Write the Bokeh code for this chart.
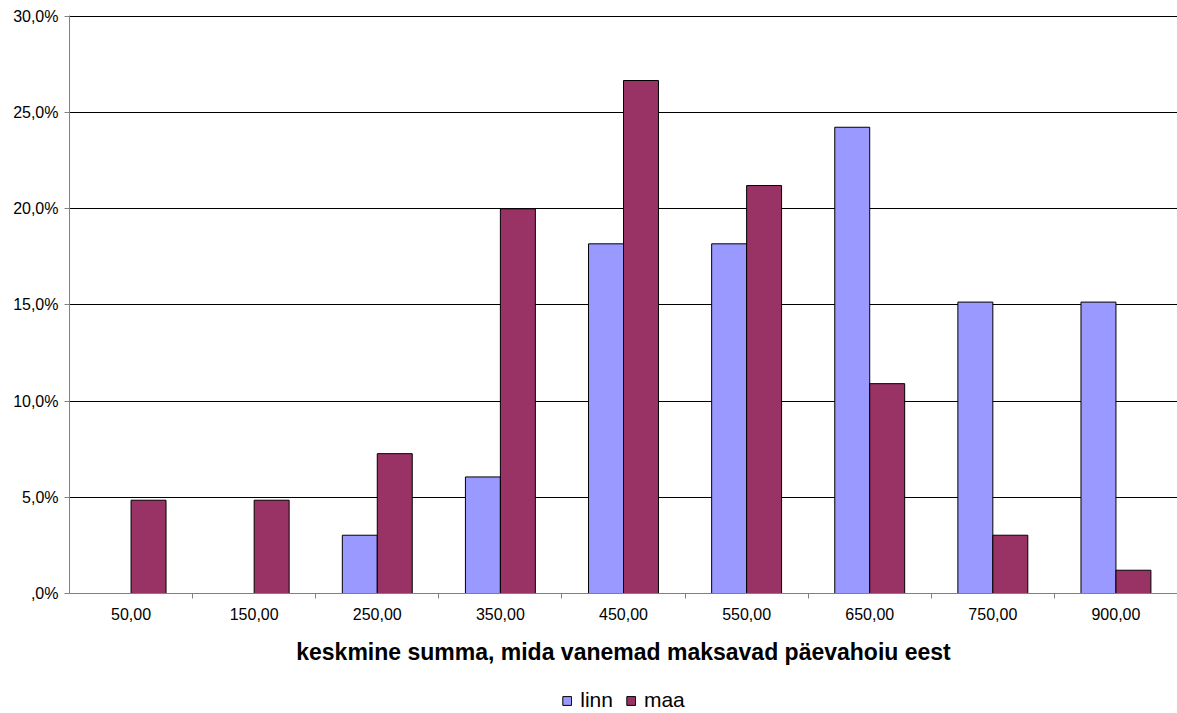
from bokeh.plotting import figure
from bokeh.layouts import column
from bokeh.models import Range1d, FixedTicker, Legend, LegendItem, ColumnDataSource
from bokeh.embed import file_html
from bokeh.resources import INLINE

categories = ["50,00", "150,00", "250,00", "350,00", "450,00", "550,00", "650,00", "750,00", "900,00"]
linn = [0.0, 0.0, 3.03, 6.06, 18.18, 18.18, 24.24, 15.15, 15.15]
maa = [4.85, 4.85, 7.27, 20.0, 26.67, 21.21, 10.91, 3.03, 1.21]
series_names = ["linn", "maa"]
y_ticks = [0, 5, 10, 15, 20, 25, 30]
y_labels = [",0%", "5,0%", "10,0%", "15,0%", "20,0%", "25,0%", "30,0%"]
x_title = "keskmine summa, mida vanemad maksavad päevahoiu eest"

colors = ["#9999FF", "#993366"]
FONT = "Liberation Sans"
n = len(categories)
bar_w = 0.284

p = figure(width=1177, height=687, output_backend="svg", toolbar_location=None,
           x_range=Range1d(0, n), y_range=Range1d(0, 30.05),
           min_border_left=69, min_border_right=0, min_border_top=15, min_border_bottom=94)
p.outline_line_color = None
p.background_fill_color = "white"
p.border_fill_color = "white"

for k, (vals, col) in enumerate(zip([linn, maa], colors)):
    off = -bar_w / 2 if k == 0 else bar_w / 2
    xs = [i + 0.5 + off for i, v in enumerate(vals) if v > 0]
    tops = [v for v in vals if v > 0]
    src = ColumnDataSource(dict(x=xs, top=tops))
    p.vbar(x="x", top="top", bottom=0, width=bar_w, source=src,
           fill_color=col, line_color="black", line_width=1)

# y axis
p.yaxis.ticker = FixedTicker(ticks=y_ticks)
p.yaxis.major_label_overrides = {t: l for t, l in zip(y_ticks, y_labels)}
p.yaxis.major_label_text_font = FONT
p.yaxis.major_label_text_font_size = "16px"
p.yaxis.major_label_text_color = "black"
p.yaxis.major_tick_out = 5
p.yaxis.major_tick_in = 0
p.yaxis.minor_tick_out = 0
p.yaxis.minor_tick_in = 0
p.yaxis.major_label_standoff = 6
p.yaxis.axis_line_color = "#808080"
p.yaxis.major_tick_line_color = "#808080"

# x axis
p.xaxis.ticker = FixedTicker(ticks=[i + 0.5 for i in range(n)], minor_ticks=list(range(1, n)))
p.xaxis.major_label_overrides = {i + 0.5: c for i, c in enumerate(categories)}
p.xaxis.major_label_text_font = FONT
p.xaxis.major_label_text_font_size = "16px"
p.xaxis.major_label_text_color = "black"
p.xaxis.major_tick_out = 0
p.xaxis.major_tick_in = 0
p.xaxis.minor_tick_out = 5
p.xaxis.minor_tick_in = 0
p.xaxis.minor_tick_line_color = "#808080"
p.xaxis.major_label_standoff = 9
p.xaxis.axis_line_color = "#808080"
p.xaxis.axis_label = x_title
p.xaxis.axis_label_text_font = FONT
p.xaxis.axis_label_text_font_size = "23px"
p.xaxis.axis_label_text_font_style = "bold"
p.xaxis.axis_label_text_color = "black"
p.xaxis.axis_label_standoff = 16

p.xgrid.visible = False
p.ygrid.ticker = FixedTicker(ticks=y_ticks)
p.ygrid.grid_line_color = "black"
p.ygrid.grid_line_width = 1

# legend strip below the chart (legend keys are styled like the bars)
lf = figure(width=1177, height=26, output_backend="svg", toolbar_location=None,
            x_range=Range1d(0, 1), y_range=Range1d(0, 1),
            x_axis_location=None, y_axis_location=None,
            min_border_left=69, min_border_right=0, min_border_top=0, min_border_bottom=0)
lf.outline_line_color = None
lf.grid.visible = False
lf.background_fill_color = "white"
lf.border_fill_color = "white"
legend_renderers = []
for col in colors:
    # style-only key renderer, not shown in the strip itself
    r = lf.vbar(x="x", top="top", width=0.1, source=ColumnDataSource(dict(x=[0.5], top=[1])),
                fill_color=col, line_color="black", line_width=1, visible=False)
    legend_renderers.append(r)

legend = Legend(items=[LegendItem(label=nm, renderers=[r]) for nm, r in zip(series_names, legend_renderers)],
                orientation="horizontal", location="center",
                label_text_font=FONT, label_text_font_size="21px", label_text_color="black",
                glyph_width=11, glyph_height=11, label_standoff=8, spacing=12,
                padding=0, margin=0, border_line_color=None, background_fill_alpha=0,
                inactive_fill_alpha=0)
lf.add_layout(legend)

layout = column(p, lf, spacing=0)
open("out.html", "w").write(file_html(layout, INLINE))
